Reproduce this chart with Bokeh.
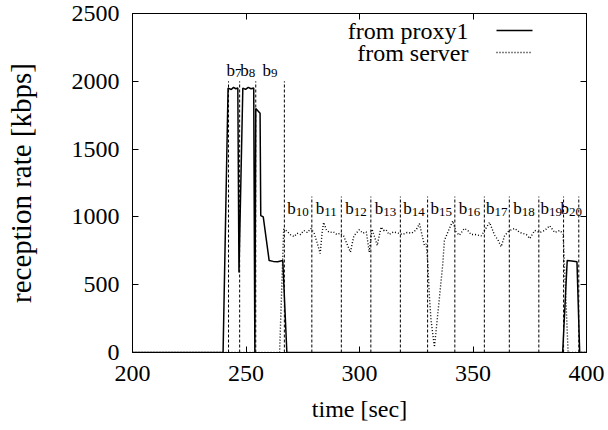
from bokeh.plotting import figure
from bokeh.models import ColumnDataSource, LinearAxis, FixedTicker, Range1d, Label, Arrow
from bokeh.core.properties import value
from bokeh.embed import file_html
from bokeh.resources import INLINE

# ---- data ----
proxy_t = [200, 239.9, 242.1, 243.5, 244.5, 245.5, 246.4, 246.9, 248.6, 249.8, 251.0, 252.2,
           253.4, 253.9, 254.3, 256.2, 256.5, 257.6, 260.2, 262.0, 264.0, 266.2, 268.0,
           389.5, 391.5, 393.5, 395.8, 397.0, 400]
proxy_v = [0, 0, 1950, 1940, 1955, 1945, 1950, 590, 1950, 1940, 1955, 1945,
           1950, 0, 1800, 1765, 1010, 1000, 678, 672, 670, 678, 0,
           0, 678, 675, 670, 0, 0]

server_t = [200, 264.8, 266.6, 268.0, 269.5, 271.2, 272.5, 274.0, 275.5, 277.0, 278.6, 280.0,
            281.5, 282.7, 283.5, 284.2, 285.5, 287.0, 288.5, 290.0, 291.5, 293.0, 294.5, 296.0,
            297.5, 299.9, 301.5, 303.0, 304.3, 305.5, 306.5, 307.8, 309.5, 310.6, 311.7, 313.0,
            315.0, 317.0, 319.0, 321.0, 323.0, 325.0, 326.4, 328.6, 329.4, 330.1, 330.8, 331.5,
            333.0, 334.5, 336.7, 337.4, 338.9, 340.0, 341.1, 342.5, 344.0, 346.2, 347.7, 349.2,
            351.0, 353.6, 355.1, 357.3, 359.5, 361.0, 362.4, 363.9, 365.4, 366.2, 368.4, 370.6,
            373.5, 375.0, 377.2, 379.4, 381.6, 383.8, 386.0, 388.2, 389.7, 391.9, 400]
server_v = [0, 0, 910, 895, 870, 855, 880, 870, 900, 885, 915, 880,
            800, 730, 880, 960, 900, 885, 890, 870, 880, 860, 800, 740,
            860, 905, 880, 890, 740, 910, 860, 790, 925, 900, 905, 870,
            890, 880, 870, 885, 880, 905, 950, 790, 800, 655, 410, 240,
            40, 285, 655, 826, 887, 930, 970, 890, 865, 915, 900, 870,
            870, 860, 900, 960, 865, 830, 780, 860, 890, 900, 915, 885,
            870, 840, 900, 885, 900, 935, 885, 900, 875, 0, 0]

bounds = [242.3, 247.2, 254.3, 266.9, 279.0, 292.0, 305.0, 318.0, 330.0, 342.0,
          355.0, 366.0, 379.0, 389.9, 396.6]
bound_top = [2000, 2000, 2000, 2000, 1150, 1150, 1150, 1150, 1150, 1150,
             1150, 1150, 1150, 1150, 1150]
block_ids = [7, 8, 9, 10, 11, 12, 13, 14, 15, 16, 17, 18, 19, 20]
label_level = [2080, 2080, 2080, 1060, 1060, 1060, 1060, 1060, 1060, 1060,
               1060, 1060, 1060, 1060]

x_ticks = [200, 250, 300, 350, 400]
y_ticks = [0, 500, 1000, 1500, 2000, 2500]
series_names = ["from proxy1", "from server"]

FONT = "Liberation Serif"

p = figure(width=608, height=430, output_backend="svg", toolbar_location=None,
           x_range=Range1d(200, 400), y_range=Range1d(0, 2500),
           min_border_left=132, min_border_right=22, min_border_top=13, min_border_bottom=78,
           background_fill_color="white", border_fill_color="white")
p.outline_line_color = "black"
p.outline_line_width = 1
p.xgrid.visible = False
p.ygrid.visible = False

# boundaries
p.segment(x0=bounds, y0=[0] * len(bounds), x1=bounds, y1=bound_top,
          line_color="black", line_width=1, line_dash="3 2")

# block labels
centers = [(a + b) / 2 for a, b in zip(bounds[:-1], bounds[1:])]
b_off = [-7.5 if n < 10 else -10.75 for n in block_ids]
d_off = [1.0 if n < 10 else -2.25 for n in block_ids]
lab_src = ColumnDataSource(dict(x=centers, y=label_level, b=["b"] * len(block_ids),
                                d=[str(n) for n in block_ids], boff=b_off, doff=d_off))
p.text(x="x", y="y", text="b", x_offset="boff", source=lab_src, text_font=value(FONT),
       text_font_size="17px", text_align="left", text_baseline="alphabetic", text_color="black")
p.text(x="x", y="y", text="d", x_offset="doff", y_offset=3, source=lab_src, text_font=value(FONT),
       text_font_size="13px", text_align="left", text_baseline="alphabetic", text_color="black")

# series
r_server = p.line(server_t, server_v, line_color="black", line_width=1.4, line_dash="1 2")
r_proxy = p.line(proxy_t, proxy_v, line_color="black", line_width=1.5)

p.xaxis.ticker = FixedTicker(ticks=x_ticks)
p.yaxis.ticker = FixedTicker(ticks=y_ticks)
for ax in [p.xaxis[0], p.yaxis[0]]:
    ax.major_tick_in = 6
    ax.major_tick_out = 0
    ax.minor_tick_in = 0
    ax.minor_tick_out = 0
    ax.axis_line_color = "black"
    ax.major_tick_line_color = "black"
    ax.major_label_text_font = FONT
    ax.major_label_text_font_size = "24px"
    ax.major_label_text_color = "black"
    ax.axis_label_text_font = FONT
    ax.axis_label_text_font_style = "normal"
    ax.axis_label_text_color = "black"
p.xaxis.axis_label = "time [sec]"
p.yaxis.axis_label = "reception rate [kbps]"
p.xaxis.axis_label_text_font_size = "24px"
p.yaxis.axis_label_text_font_size = "29px"
p.xaxis.major_label_standoff = 13
p.yaxis.major_label_standoff = 13
p.xaxis.axis_label_standoff = 12
p.yaxis.axis_label_standoff = 32

top_ax = LinearAxis(ticker=FixedTicker(ticks=x_ticks))
right_ax = LinearAxis(ticker=FixedTicker(ticks=y_ticks))
for ax in [top_ax, right_ax]:
    ax.major_tick_in = 6
    ax.major_tick_out = 0
    ax.minor_tick_in = 0
    ax.minor_tick_out = 0
    ax.major_label_text_font_size = "0px"
    ax.major_label_text_color = None
    ax.major_label_standoff = 0
    ax.axis_line_color = "black"
    ax.major_tick_line_color = "black"
p.add_layout(top_ax, "above")
p.add_layout(right_ax, "right")

# gnuplot-style key: text right-aligned, sample to its right (screen units, frame-relative)
key_rows = [322, 300]
key_dash = ["solid", "1 2"]
for name, ry, dash in zip(series_names, key_rows, key_dash):
    p.add_layout(Label(x=336, y=ry, x_units="screen", y_units="screen", text=name,
                       text_font=FONT, text_font_size="24px", text_align="right",
                       text_baseline="middle", text_color="black"))
    p.add_layout(Arrow(x_start=364, y_start=ry, x_end=400, y_end=ry,
                       start_units="screen", end_units="screen", end=None, start=None,
                       line_color="black", line_width=1.4 if dash != "solid" else 1.5,
                       line_dash=dash))

open("out.html", "w").write(file_html(p, INLINE))
